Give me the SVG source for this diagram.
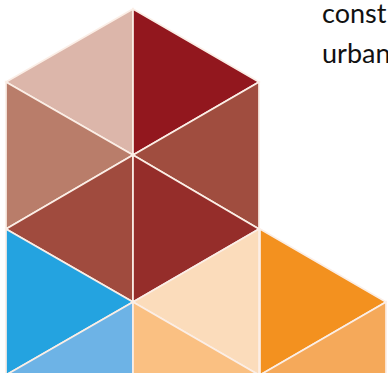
<svg xmlns="http://www.w3.org/2000/svg" width="388" height="373" viewBox="0 0 388 373">
<style>
polygon{stroke:#fbeee6;stroke-width:1.7;stroke-linejoin:miter}
text{font-family:Lato,"Liberation Sans",sans-serif;font-size:27px;fill:#111}
</style>
<rect width="388" height="373" fill="#fff"/>
<polygon points="133,9 6,82 133,155" fill="#dcb6aa"/>
<polygon points="133,9 259,82 133,155" fill="#92171e"/>
<polygon points="6,82 133,155 6,229" fill="#b97d6a"/>
<polygon points="259,82 133,155 259,229" fill="#a04d3f"/>
<polygon points="133,155 6,229 133,302" fill="#a04b3e"/>
<polygon points="133,155 259,229 133,302" fill="#952d2a"/>
<polygon points="6,229 133,302 6,375" fill="#24a3e0"/>
<polygon points="133,302 6,375 133,375" fill="#6db3e6"/>
<polygon points="259,229 133,302 259,375" fill="#fbdcbb"/>
<polygon points="133,302 259,375 133,375" fill="#fac082"/>
<polygon points="260,229 386,302 260,375" fill="#f3911f"/>
<polygon points="386,302 260,375 386,375" fill="#f5a95a"/>
<text x="322" y="23">const</text>
<text x="322" y="63">urban</text>
</svg>
